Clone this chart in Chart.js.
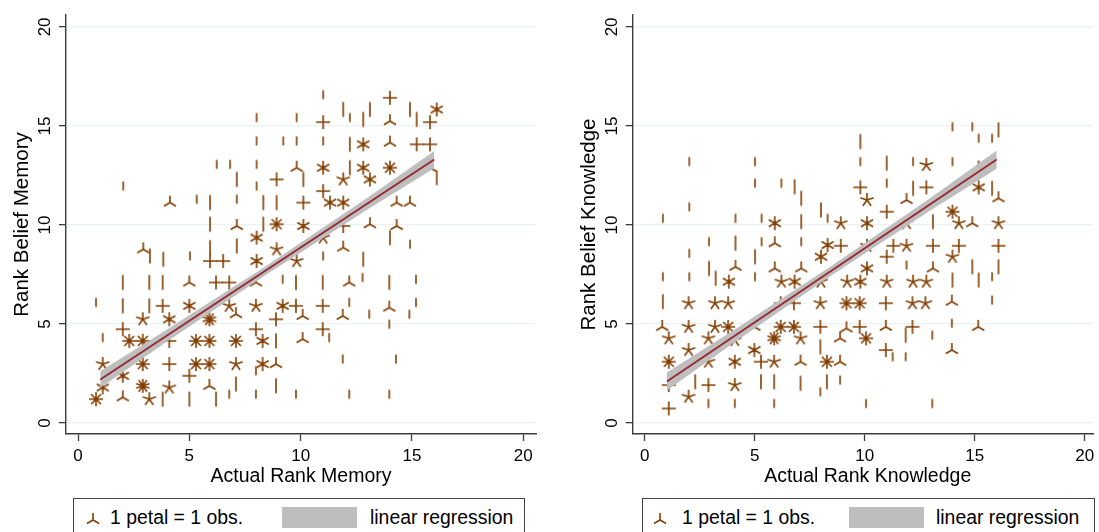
<!DOCTYPE html>
<html><head><meta charset="utf-8">
<script src="https://cdn.jsdelivr.net/npm/chart.js@4.4.1/dist/chart.umd.min.js"></script>
<style>
html,body{margin:0;padding:0;background:#fff;width:1099px;height:532px;overflow:hidden;font-family:"Liberation Sans",Arial,sans-serif;}
.pane{position:absolute;top:0;height:495px;width:549px;}
.legend{position:absolute;top:498px;height:50px;border:1.4px solid #444;box-sizing:border-box;}
.lt{position:absolute;font-size:19.4px;line-height:1;color:#000;white-space:nowrap;top:9px;}
.sw{position:absolute;top:8px;width:75px;height:21px;background:rgb(190,190,190);}
.ic{position:absolute;top:0px;}
</style></head><body>
<div class="pane" style="left:0"><canvas id="c1" width="549" height="495"></canvas></div>
<div class="pane" style="left:550px"><canvas id="c2" width="549" height="495"></canvas></div>
<div class="legend" style="left:73px;width:452px">
  <canvas class="ic" id="li1" width="22" height="22" style="left:8px;top:10px"></canvas>
  <span class="lt" style="left:36px">1 petal = 1 obs.</span>
  <div class="sw" style="left:208px"></div>
  <span class="lt" style="left:296px">linear regression</span>
</div>
<div class="legend" style="left:642px;width:453px">
  <canvas class="ic" id="li2" width="22" height="22" style="left:6px;top:10px"></canvas>
  <span class="lt" style="left:39px">1 petal = 1 obs.</span>
  <div class="sw" style="left:206px"></div>
  <span class="lt" style="left:293px">linear regression</span>
</div>
<script>
// ---------------- data ----------------
const tickValues = [0, 5, 10, 15, 20];
const tickLabels = ['0', '5', '10', '15', '20'];

// Panel 1: memory. Positions of sunflowers and number of petals.
const memX = [11.01,14.01,11.91,13.11,14.91,16.11,8.02,9.82,11.01,12.21,12.81,14.01,15.21,15.81,8.02,9.22,9.82,11.01,12.21,12.81,14.01,15.21,15.81,6.23,6.83,8.02,9.82,10.12,11.01,12.21,12.81,14.01,15.81,16.11,7.13,8.02,8.92,11.91,13.11,11.01,2.03,4.13,5.33,5.93,7.13,8.32,8.92,10.12,11.32,11.91,14.31,14.91,5.93,7.13,8.32,8.92,10.12,11.91,13.11,14.31,14.01,8.02,11.01,2.93,5.93,7.13,8.92,11.91,14.91,3.23,3.83,5.03,5.93,6.52,8.02,9.82,11.01,12.81,2.01,3.20,3.80,5.00,6.20,6.79,7.99,9.19,9.79,10.99,12.18,12.78,13.98,15.18,0.81,2.01,3.20,3.80,5.00,6.79,7.09,7.99,9.19,9.79,10.09,10.99,11.89,12.18,13.08,13.98,14.88,15.18,2.91,4.10,5.90,8.89,13.98,2.01,7.99,10.99,11.28,1.11,2.30,2.91,4.10,5.30,5.90,7.09,8.29,8.89,10.09,1.11,2.91,4.10,5.30,5.90,7.09,8.29,8.89,7.99,11.89,14.28,2.01,5.00,1.11,2.91,4.10,7.09,8.89,5.90,6.20,0.81,2.01,3.20,3.80,5.00,6.79,7.99,9.79,12.18,13.98];
const memY = [16.58,16.42,15.83,15.83,15.83,15.83,15.42,15.42,15.19,15.42,15.33,15.24,15.33,15.19,14.24,14.24,14.24,14.24,14.07,14.07,14.16,14.07,14.07,13.06,13.06,13.06,12.89,12.30,12.89,12.89,12.89,12.89,12.89,12.39,12.30,11.97,12.30,12.30,12.30,11.71,11.97,11.13,11.30,11.13,11.30,11.13,11.13,11.13,11.13,11.13,11.13,11.13,10.04,9.95,10.04,10.04,9.95,9.95,10.04,9.95,9.36,9.36,9.36,8.77,8.86,8.94,8.77,8.86,9.03,8.44,8.27,8.44,8.18,8.18,8.18,8.18,8.44,8.27,7.10,7.10,7.10,7.10,7.10,7.10,7.10,7.26,7.10,7.10,7.10,7.35,7.10,7.26,6.09,5.92,5.92,5.92,5.92,5.92,5.50,5.92,5.92,5.92,5.41,5.92,5.41,6.09,5.50,5.83,5.50,6.09,5.24,5.24,5.24,5.24,4.99,4.74,4.74,4.74,4.32,4.32,4.15,4.15,4.15,4.15,4.15,4.15,4.15,4.15,4.24,2.98,2.98,2.98,2.98,2.98,2.98,2.98,2.98,2.64,3.23,3.23,2.39,2.39,1.80,1.88,1.80,1.97,1.88,1.88,1.21,1.21,1.30,1.21,1.21,1.21,1.46,1.46,1.46,1.46,1.46];
const memPetals = [1,4,2,2,2,6,1,1,4,1,2,3,2,4,1,1,1,1,2,6,3,4,4,1,1,1,3,2,6,2,6,8,3,2,2,1,4,5,6,4,1,3,1,2,1,2,2,4,6,6,3,3,2,3,2,8,6,4,3,3,2,6,5,3,2,2,5,3,1,2,2,1,4,4,6,5,1,2,2,2,2,3,4,4,3,1,2,2,3,1,2,1,1,2,2,4,6,5,3,5,6,4,3,4,3,1,1,3,1,1,5,6,10,4,1,4,4,4,1,1,8,8,4,8,8,8,6,2,3,5,8,4,8,8,5,6,3,1,1,1,6,4,6,10,5,2,2,3,2,8,3,5,2,2,1,1,1,1,1];
const memFitX = [1.0, 16.0];
const memFitY = [2.2, 13.3];
const memBandX = [1.0, 4.0, 8.5, 13.0, 16.0];
const memBandLo = [1.78, 4.12, 7.53, 10.78, 12.86];
const memBandHi = [2.62, 4.72, 7.97, 11.38, 13.74];

// Panel 2: knowledge.
const knowX = [13.99,14.89,16.08,15.18,15.79,9.80,2.02,5.01,9.80,11.00,12.20,12.80,13.99,15.18,5.01,6.21,6.81,9.80,11.00,12.20,12.80,15.18,15.79,2.02,7.11,10.10,11.90,16.08,11.00,13.99,0.82,4.12,5.31,5.91,7.11,8.01,8.31,8.91,10.10,11.90,13.10,14.28,14.89,16.08,2.92,4.12,5.31,5.91,7.11,8.31,8.91,10.10,11.30,11.90,13.10,14.28,16.08,2.02,5.01,8.01,11.00,13.99,2.92,4.12,5.91,7.11,10.10,11.90,13.10,14.89,16.08,0.82,2.02,3.22,3.82,5.01,6.21,6.81,8.01,9.20,9.80,11.00,12.20,12.80,13.99,15.18,15.79,0.82,1.99,3.19,3.79,6.18,6.78,7.98,9.17,9.77,10.96,12.17,12.76,13.96,15.79,0.79,1.99,3.19,3.79,4.98,6.18,6.78,7.98,9.17,9.77,10.96,12.17,13.96,15.16,1.09,2.89,4.09,5.88,7.08,8.88,10.06,11.86,13.07,1.99,4.98,7.98,10.96,11.27,11.86,13.96,1.09,2.89,4.09,5.28,5.88,7.08,8.28,8.88,1.09,2.29,2.89,4.09,5.28,5.88,7.08,8.28,8.88,7.98,1.99,1.09,2.89,4.09,5.88,10.06,13.07];
const knowY = [14.96,14.96,14.80,14.38,14.38,14.21,13.20,13.20,13.20,13.12,13.20,13.03,13.20,13.03,12.11,12.11,11.93,11.90,12.11,11.85,11.90,11.90,11.85,10.92,11.35,11.26,11.26,11.35,10.67,10.67,10.34,10.34,10.34,10.09,10.17,10.76,10.34,10.09,10.09,10.09,10.17,10.09,10.09,10.09,9.16,9.08,9.16,9.08,9.16,8.99,8.95,8.95,8.95,8.95,8.95,8.95,8.95,8.57,8.40,8.40,8.40,8.40,7.81,7.89,7.81,7.81,7.81,7.98,7.81,7.89,7.89,7.39,7.39,7.31,7.14,7.39,7.14,7.14,7.14,7.14,7.14,7.14,7.14,7.14,7.22,7.22,7.39,6.13,6.05,6.05,6.05,6.05,6.05,6.05,6.05,6.05,6.05,6.05,6.05,6.13,6.21,4.86,4.86,4.86,4.86,4.86,4.86,4.86,4.86,4.78,4.86,4.86,4.86,5.04,4.86,4.28,4.28,4.19,4.28,4.28,4.28,4.28,4.44,4.44,3.69,3.69,3.85,3.69,3.35,3.35,3.69,3.10,3.10,3.10,3.10,3.10,3.10,3.10,3.10,1.92,2.09,1.92,1.92,2.09,2.09,2.01,2.09,2.17,1.58,1.33,0.74,0.99,0.99,0.99,0.99,0.99];
const knowPetals = [1,1,2,1,1,2,1,1,1,2,1,5,1,1,1,1,2,4,1,2,4,6,2,1,2,5,3,3,4,8,1,1,1,6,2,2,1,5,6,5,2,5,3,5,1,2,1,3,1,6,4,5,4,5,4,4,4,1,2,6,4,5,2,3,3,3,6,1,3,2,2,1,1,2,6,1,5,6,5,5,6,5,5,5,2,2,1,2,5,5,5,4,4,5,8,8,4,5,5,3,1,3,5,5,8,3,8,8,4,3,4,3,4,1,3,5,5,5,10,5,3,8,2,1,5,6,2,4,1,1,3,8,5,6,4,5,3,8,3,4,2,4,5,2,2,2,2,1,1,5,4,1,1,1,1,1];
const knowFitX = [1.0, 16.0];
const knowFitY = [2.1, 13.3];
const knowBandX = [1.0, 4.0, 8.5, 13.0, 16.0];
const knowBandLo = [1.65, 4.02, 7.46, 10.74, 12.84];
const knowBandHi = [2.55, 4.66, 7.94, 11.38, 13.76];

// ---------------- styling ----------------
const FONT = '"Liberation Sans", Arial, sans-serif';
const FLOWER = 'rgb(130,62,0)';
const FIT = 'rgb(150,38,48)';
const BAND = 'rgb(190,190,190)';
const GRID = 'rgb(234,242,243)';
const AXIS = '#3c3c3c';
Chart.defaults.font.family = FONT;
Chart.defaults.color = '#000';

const flowerCache = {};
function drawFlower(g, c, n) {
  g.strokeStyle = FLOWER; g.lineWidth = 1.6; g.lineCap = 'butt';
  g.beginPath();
  if (n === 1) { g.moveTo(c, c - 4.5); g.lineTo(c, c + 4.5); }
  else if (n === 2) { g.moveTo(c, c - 7.5); g.lineTo(c, c + 7.5); }
  else {
    const L = 7;
    for (let k = 0; k < n; k++) {
      const a = -Math.PI / 2 + k * 2 * Math.PI / n;
      g.moveTo(c, c); g.lineTo(c + L * Math.cos(a), c + L * Math.sin(a));
    }
  }
  g.stroke();
}
function flower(n) {
  if (!flowerCache[n]) {
    const cv = document.createElement('canvas'); cv.width = 22; cv.height = 22;
    drawFlower(cv.getContext('2d'), 11, n);
    flowerCache[n] = cv;
  }
  return flowerCache[n];
}
['li1', 'li2'].forEach(id => drawFlower(document.getElementById(id).getContext('2d'), 11, 3));

const axisText = {
  id: 'axisText',
  afterDraw(chart, args, opts) {
    const { ctx, chartArea: a, scales: { y } } = chart;
    ctx.save();
    ctx.fillStyle = '#000';
    ctx.font = '17px ' + FONT;
    ctx.textAlign = 'center'; ctx.textBaseline = 'alphabetic';
    tickValues.forEach((v, i) => {
      const py = y.getPixelForValue(v);
      ctx.save(); ctx.translate(a.left - 16, py); ctx.rotate(-Math.PI / 2);
      ctx.fillText(tickLabels[i], 0, 0); ctx.restore();
    });
    ctx.font = '19.5px ' + FONT;
    ctx.fillText(opts.xTitle, a.left + 235, 482.3);
    ctx.font = '20.5px ' + FONT;
    ctx.save(); ctx.translate(a.left - 37.7, (a.top + a.bottom) / 2); ctx.rotate(-Math.PI / 2);
    ctx.fillText(opts.yTitle, 0, 0); ctx.restore();
    ctx.restore();
  }
};

function fixTicks(s) { s.ticks = tickValues.map(v => ({ value: v, label: String(v) })); }

function makeChart(id, X, Y, P, fitX, fitY, bX, bLo, bHi, xmin, xmax, pad, xTitle, yTitle) {
  const pts = X.map((x, i) => ({ x: x, y: Y[i] }));
  new Chart(document.getElementById(id), {
    data: {
      datasets: [
        { type: 'line', data: fitX.map((x, i) => ({ x: x, y: fitY[i] })), borderColor: FIT, borderWidth: 1.8, pointRadius: 0, fill: false, order: 1 },
        { type: 'line', data: bX.map((x, i) => ({ x: x, y: bLo[i] })), borderWidth: 0, borderColor: 'rgba(0,0,0,0)', pointRadius: 0, fill: false, order: 2 },
        { type: 'line', data: bX.map((x, i) => ({ x: x, y: bHi[i] })), borderWidth: 0, borderColor: 'rgba(0,0,0,0)', pointRadius: 0, fill: '-1', backgroundColor: BAND, order: 2 },
        { type: 'scatter', data: pts, pointRadius: 5, pointStyle: ctx => flower(P[ctx.dataIndex]), order: 3 }
      ]
    },
    options: {
      responsive: false, animation: false, devicePixelRatio: 1,
      layout: { padding: pad },
      plugins: { legend: { display: false }, tooltip: { enabled: false }, filler: { drawTime: 'beforeDatasetDraw' }, axisText: { xTitle: xTitle, yTitle: yTitle } },
      scales: {
        x: {
          type: 'linear', min: xmin, max: xmax,
          afterBuildTicks: fixTicks,
          afterFit: s => { s.height = 61; s.paddingLeft = 0; s.paddingRight = 0; },
          grid: { drawOnChartArea: false, drawTicks: true, tickLength: 7, tickColor: AXIS, tickWidth: 1.3 },
          border: { display: true, color: AXIS, width: 1.4 },
          ticks: { autoSkip: false, maxRotation: 0, minRotation: 0, padding: 5, font: { size: 17 }, color: '#000' }
        },
        y: {
          type: 'linear', min: -0.55, max: 20.6,
          afterBuildTicks: fixTicks,
          afterFit: s => { s.width = 66; s.paddingTop = 0; s.paddingBottom = 0; },
          grid: { color: GRID, lineWidth: 1.3, drawTicks: true, tickLength: 7, tickColor: AXIS, tickWidth: 1.3 },
          border: { display: true, color: AXIS, width: 1.4 },
          ticks: { display: false }
        }
      }
    },
    plugins: [axisText]
  });
}

makeChart('c1', memX, memY, memPetals, memFitX, memFitY, memBandX, memBandLo, memBandHi,
  -0.54, 20.57, { left: 0, right: 13, top: 15, bottom: 0 }, 'Actual Rank Memory', 'Rank Belief Memory');
makeChart('c2', knowX, knowY, knowPetals, knowFitX, knowFitY, knowBandX, knowBandLo, knowBandHi,
  -0.552, 20.38, { left: 16.7, right: 0, top: 15, bottom: 0 }, 'Actual Rank Knowledge', 'Rank Belief Knowledge');
</script>
</body></html>
